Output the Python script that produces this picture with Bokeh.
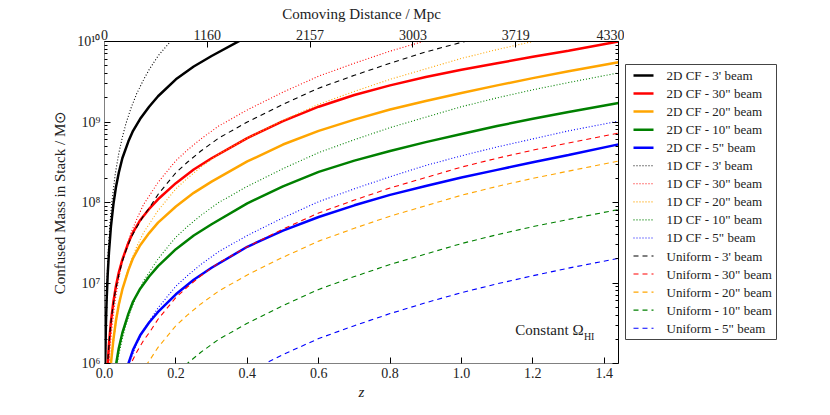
import math
from bokeh.plotting import figure
from bokeh.layouts import row
from bokeh.models import (Range1d, LinearAxis, LogAxis, FixedTicker,
                          Label, CustomJSTickFormatter, PrintfTickFormatter)
from bokeh.core.properties import value
from bokeh.embed import file_html
from bokeh.resources import INLINE

NAN = float("nan")

# ---- data (log10 of confused mass) ----
Z_2D = [0.001, 0.002, 0.004, 0.006, 0.009, 0.0125, 0.018, 0.025, 0.032, 0.04, 0.05,
        0.067, 0.08, 0.1, 0.125, 0.15, 0.2, 0.25, 0.3, 0.4, 0.5, 0.6, 0.7, 0.8, 0.9,
        1.0, 1.1, 1.2, 1.3, 1.44]
CF2D_3am = [5.56, 6.01, 6.49, 6.79, 7.11, 7.38, 7.70, 7.98, 8.19, 8.37, 8.55, 8.76, 8.89,
            9.04, 9.19, 9.32, 9.53, 9.69, 9.82, 10.06, NAN, NAN, NAN, NAN, NAN, NAN, NAN,
            NAN, NAN, NAN]
CF2D_30 = [4.31, 4.84, 5.37, 5.68, 5.99, 6.24, 6.52, 6.77, 6.96, 7.13, 7.29, 7.50, 7.63,
           7.78, 7.92, 8.04, 8.24, 8.41, 8.55, 8.80, 9.01, 9.19, 9.335, 9.455, 9.56, 9.65,
           9.73, 9.81, 9.885, 10.0]
CF2D_20 = [3.4, 4.0, 4.6, 5.0, 5.37, 5.66, 6.00, 6.30, 6.53, 6.73, 6.92, 7.16, 7.31, 7.47,
           7.62, 7.75, 7.95, 8.12, 8.26, 8.51, 8.72, 8.89, 9.03, 9.155, 9.26, 9.36, 9.455,
           9.545, 9.63, 9.742]
CF2D_10 = [2.3, 3.0, 3.7, 4.1, 4.6, 5.0, 5.40, 5.72, 5.98, 6.19, 6.38, 6.62, 6.77, 6.93,
           7.08, 7.21, 7.42, 7.59, 7.73, 7.99, 8.20, 8.38, 8.52, 8.64, 8.75, 8.85, 8.95,
           9.04, 9.125, 9.236]
CF2D_5 = [1.0, 1.8, 2.7, 3.4, 4.0, 4.4, 4.75, 5.05, 5.30, 5.52, 5.73, 6.00, 6.17, 6.35,
          6.51, 6.64, 6.86, 7.04, 7.19, 7.45, 7.65, 7.82, 7.965, 8.095, 8.205, 8.31, 8.405,
          8.50, 8.59, 8.722]

Z_U = [0.001, 0.002, 0.004, 0.007, 0.01, 0.015, 0.02, 0.03, 0.04, 0.05, 0.06, 0.074,
       0.09, 0.11, 0.125, 0.15, 0.2, 0.232, 0.27, 0.32, 0.4, 0.5, 0.6, 0.7, 0.8, 0.9,
       1.0, 1.1, 1.2, 1.3, 1.44]
CF1D_3am = [5.25, 5.88, 6.51, 7.02, 7.35, 7.72, 7.98, 8.35, 8.61, 8.81, 8.98, 9.17, 9.35,
            9.53, 9.65, 9.82, 10.08, 10.20, 10.34, NAN, NAN, NAN, NAN, NAN, NAN, NAN,
            NAN, NAN, NAN, NAN, NAN]
CF1D_30 = [3.69, 4.32, 4.95, 5.46, 5.79, 6.16, 6.42, 6.79, 7.05, 7.26, 7.42, 7.62, 7.79,
           7.98, 8.08, 8.25, 8.52, 8.65, 8.79, 8.95, 9.15, 9.37, 9.57, 9.73, 9.88, 10.01,
           10.14, 10.25, 10.35, 10.44, 10.56]
CF1D_20 = [3.34, 3.97, 4.61, 5.12, 5.44, 5.81, 6.07, 6.44, 6.71, 6.91, 7.08, 7.27, 7.45,
           7.63, 7.73, 7.90, 8.17, 8.30, 8.44, 8.60, 8.80, 9.02, 9.22, 9.38, 9.53, 9.66,
           9.79, 9.90, 10.00, 10.09, 10.21]
CF1D_10 = [2.74, 3.37, 4.01, 4.52, 4.84, 5.21, 5.47, 5.84, 6.11, 6.31, 6.48, 6.67, 6.84,
           7.03, 7.13, 7.30, 7.57, 7.70, 7.84, 8.00, 8.20, 8.42, 8.62, 8.78, 8.93, 9.06,
           9.19, 9.30, 9.40, 9.49, 9.61]
CF1D_5 = [2.13, 2.77, 3.40, 3.91, 4.23, 4.60, 4.87, 5.24, 5.50, 5.70, 5.87, 6.06, 6.24,
          6.42, 6.52, 6.69, 6.96, 7.09, 7.23, 7.39, 7.59, 7.81, 8.01, 8.17, 8.32, 8.46,
          8.58, 8.69, 8.79, 8.89, 9.01]
UNI_3am = [4.38, 4.89, 5.40, 5.81, 6.08, 6.38, 6.59, 6.89, 7.10, 7.27, 7.40, 7.56, 7.69,
           7.84, 7.93, 8.10, 8.37, 8.50, 8.64, 8.80, 9.00, 9.22, 9.42, 9.58, 9.73, 9.87,
           9.99, 10.10, 10.20, 10.30, 10.42]
UNI_30 = [2.83, 3.34, 3.85, 4.26, 4.53, 4.83, 5.04, 5.34, 5.55, 5.72, 5.85, 6.00, 6.14,
          6.29, 6.38, 6.55, 6.82, 6.95, 7.09, 7.25, 7.45, 7.67, 7.87, 8.03, 8.18, 8.31,
          8.44, 8.55, 8.65, 8.74, 8.862]
UNI_20 = [2.48, 2.99, 3.50, 3.91, 4.18, 4.48, 4.69, 4.99, 5.20, 5.37, 5.50, 5.65, 5.79,
          5.94, 6.03, 6.20, 6.47, 6.60, 6.74, 6.90, 7.10, 7.32, 7.52, 7.68, 7.83, 7.96,
          8.09, 8.20, 8.30, 8.39, 8.514]
UNI_10 = [1.88, 2.39, 2.90, 3.31, 3.58, 3.88, 4.09, 4.39, 4.60, 4.77, 4.90, 5.05, 5.19,
          5.34, 5.43, 5.60, 5.87, 6.00, 6.14, 6.30, 6.50, 6.72, 6.92, 7.08, 7.23, 7.36,
          7.49, 7.60, 7.70, 7.79, 7.913]
UNI_5 = [1.27, 1.78, 2.29, 2.70, 2.97, 3.27, 3.48, 3.78, 3.99, 4.16, 4.29, 4.445, 4.58,
         4.73, 4.82, 4.99, 5.26, 5.39, 5.53, 5.69, 5.89, 6.11, 6.31, 6.47, 6.62, 6.755,
         6.88, 6.99, 7.09, 7.185, 7.307]

LABELS_2D = ["2D CF - 3' beam", '2D CF - 30" beam', '2D CF - 20" beam',
             '2D CF - 10" beam', '2D CF - 5" beam']
LABELS_1D = ["1D CF - 3' beam", '1D CF - 30" beam', '1D CF - 20" beam',
             '1D CF - 10" beam', '1D CF - 5" beam']
LABELS_U = ["Uniform - 3' beam", 'Uniform - 30" beam', 'Uniform - 20" beam',
            'Uniform - 10" beam', 'Uniform - 5" beam']
COLORS = ["black", "red", "orange", "green", "blue"]

X_TICKS = [0.0, 0.2, 0.4, 0.6, 0.8, 1.0, 1.2, 1.4]
TOP_TICKS = [0.0, 0.288, 0.576, 0.864, 1.152, 1.44]
TOP_LABELS = ["0", "1160", "2157", "3003", "3719", "4330"]
Y_TICKS = [1e6, 1e7, 1e8, 1e9, 1e10]
Y_MINOR = [m * 10 ** e for e in range(6, 10) for m in range(2, 10)]

FONT = "Liberation Serif"
TXT = "#222222"
B_TOP, B_BOT = 41, 52

p = figure(width=624, height=415, x_axis_type="linear", y_axis_type="log",
           x_range=Range1d(0, 1.44), y_range=Range1d(1e6, 1e10),
           output_backend="svg", toolbar_location=None,
           min_border_left=104, min_border_right=6, min_border_top=B_TOP,
           min_border_bottom=B_BOT)
p.grid.visible = False
p.outline_line_color = None
p.background_fill_color = "white"

def tolin(vals):
    return [10 ** v for v in vals]

SOLID = dict(line_width=2.5)
DOTTED = dict(line_width=1.1, line_dash="1 2")
DASHED = dict(line_width=1.1, line_dash="5 4")

for col, vals in zip(COLORS, [CF2D_3am, CF2D_30, CF2D_20, CF2D_10, CF2D_5]):
    p.line(Z_2D, tolin(vals), line_color=col, **SOLID)
for col, vals in zip(COLORS, [CF1D_3am, CF1D_30, CF1D_20, CF1D_10, CF1D_5]):
    p.line(Z_U, tolin(vals), line_color=col, **DOTTED)
for col, vals in zip(COLORS, [UNI_3am, UNI_30, UNI_20, UNI_10, UNI_5]):
    p.line(Z_U, tolin(vals), line_color=col, **DASHED)

# bottom axis
xa = p.xaxis[0]
xa.ticker = FixedTicker(ticks=X_TICKS, minor_ticks=[])
xa.formatter = PrintfTickFormatter(format="%.1f")
xa.axis_label = "z"

# left axis
ya = p.yaxis[0]
ya.ticker = FixedTicker(ticks=Y_TICKS, minor_ticks=Y_MINOR)
sup_code = """
const e = Math.round(Math.log10(tick));
const s = '\u2070\u00b9\u00b2\u00b3\u2074\u2075\u2076\u2077\u2078\u2079';
return '10' + String(e).split('').map(c => s[+c]).join('');
"""
ya.formatter = CustomJSTickFormatter(code=sup_code)
ya.axis_label = "Confused Mass in Stack / M\u2299"

# top axis (comoving distance)
top = LinearAxis(ticker=FixedTicker(ticks=TOP_TICKS, minor_ticks=[]),
                 formatter=CustomJSTickFormatter(args=dict(t=TOP_TICKS, l=TOP_LABELS), code="""
let i = 0, b = 1e9;
for (let k = 0; k < t.length; k++) { const d = Math.abs(t[k] - tick); if (d < b) { b = d; i = k; } }
return l[i];
"""), axis_label="Comoving Distance / Mpc")
p.add_layout(top, "above")

# right axis: ticks only
right = LogAxis(ticker=FixedTicker(ticks=Y_TICKS, minor_ticks=Y_MINOR),
                formatter=CustomJSTickFormatter(code="return '';"))
p.add_layout(right, "right")

for ax in [xa, ya, top, right]:
    ax.major_tick_in = 6
    ax.major_tick_out = 0
    ax.minor_tick_in = 3
    ax.minor_tick_out = 0
    ax.major_label_text_font = FONT
    ax.major_label_text_font_size = "14px"
    ax.major_label_text_color = TXT
    ax.axis_label_text_font = FONT
    ax.axis_label_text_font_size = "15px"
    ax.axis_label_text_color = TXT
    ax.axis_label_text_font_style = "normal"
    ax.major_tick_line_color = "black"
    ax.minor_tick_line_color = "black"
xa.axis_label_text_font_style = "italic"
xa.axis_line_color = "#808080"
ya.axis_line_color = "#808080"
top.axis_line_color = "black"
right.axis_line_color = "black"
xa.major_label_standoff = 4
xa.axis_label_standoff = 3
ya.major_label_standoff = 4
ya.axis_label_standoff = 6
top.major_label_standoff = 2
top.axis_label_standoff = 5
right.major_label_standoff = 0

lab1 = Label(x=1.151, y=10 ** 6.32, text="Constant \u03a9", text_font=FONT,
             text_font_size="15px", text_color=TXT)
lab2 = Label(x=1.343, y=10 ** 6.265, text="HI", text_font=FONT,
             text_font_size="10px", text_color=TXT)
p.add_layout(lab1)
p.add_layout(lab2)

# ---- legend panel: a small figure whose data units are page pixels (y measured up) ----
QW, QH = 206, 415
q = figure(width=QW, height=QH, x_range=Range1d(0, QW),
           y_range=Range1d(B_BOT, QH - B_TOP),
           output_backend="svg", toolbar_location=None,
           x_axis_location=None, y_axis_location=None,
           min_border_left=0, min_border_right=0,
           min_border_top=B_TOP, min_border_bottom=B_BOT)
q.grid.visible = False
q.outline_line_color = None

BOX_L, BOX_R, BOX_T, BOX_B = 1, 152, 64, 339
ROW0, ROWH = 75, 18.05
G0, G1, TX = 9, 29, 42
q.quad(left=[BOX_L], right=[BOX_R], top=[QH - BOX_T], bottom=[QH - BOX_B],
       fill_color="white", line_color="#444444", line_width=1)

groups = [(LABELS_2D, SOLID), (LABELS_1D, DOTTED), (LABELS_U, DASHED)]
k = 0
for labels, style in groups:
    ys = [QH - (ROW0 + ROWH * (k + i)) for i in range(len(labels))]
    q.segment(x0=[G0] * len(labels), y0=ys, x1=[G1] * len(labels), y1=ys,
              line_color=COLORS, **style)
    q.text(x=[TX] * len(labels), y=ys, text=labels, text_font=value(FONT),
           text_font_size="13px", text_color=TXT, text_baseline="middle",
           text_align="left")
    k += len(labels)

layout = row(p, q, spacing=0)
open("out.html", "w").write(file_html(layout, INLINE))
